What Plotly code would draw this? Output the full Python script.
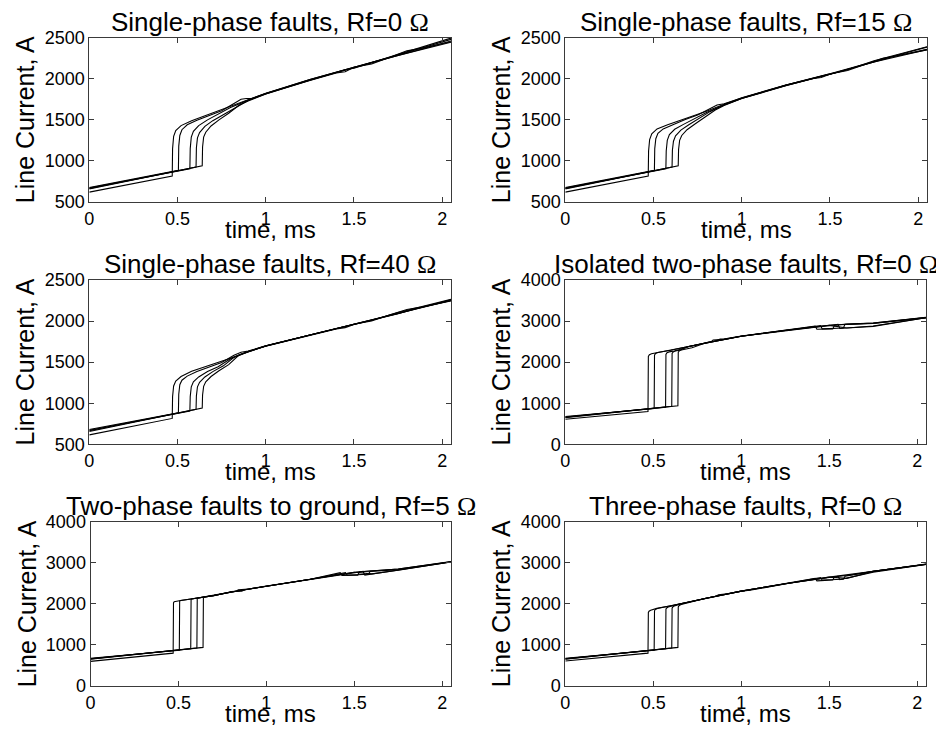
import plotly.graph_objects as go

# ---------------- data ----------------
OMEGA = '<span style="font-family:\'Liberation Serif\', \'Times New Roman\', serif">Ω</span>'
TITLES = [
    "Single-phase faults, Rf=0 " + OMEGA,
    "Single-phase faults, Rf=15 " + OMEGA,
    "Single-phase faults, Rf=40 " + OMEGA,
    "Isolated two-phase faults, Rf=0 " + OMEGA,
    "Two-phase faults to ground, Rf=5 " + OMEGA,
    "Three-phase faults, Rf=0 " + OMEGA,
]
X_TICKS = [0, 0.5, 1, 1.5, 2]
X_TICK_TEXT = ["0", "0.5", "1", "1.5", "2"]
Y_TICKS_LOW = [500, 1000, 1500, 2000, 2500]
Y_TICKS_HIGH = [0, 1000, 2000, 3000, 4000]

# Panel 1: single-phase, Rf=0
P1_T = [
    [0, 0.47, 0.472, 0.478, 0.49, 0.52, 0.58, 0.65, 0.72, 0.80, 0.85, 0.9, 1.0, 1.25, 1.5, 1.75, 2.05],
    [0, 0.505, 0.507, 0.513, 0.525, 0.555, 0.61, 0.68, 0.75, 0.82, 0.86, 0.89, 0.92, 1.0, 1.25, 1.45, 1.5, 1.6, 1.75, 2.05],
    [0, 0.57, 0.572, 0.578, 0.59, 0.62, 0.67, 0.73, 0.80, 0.9, 1.0, 1.25, 1.4, 1.45, 1.5, 1.75, 1.85, 2.05],
    [0, 0.605, 0.607, 0.613, 0.625, 0.655, 0.70, 0.76, 0.82, 0.9, 1.0, 1.25, 1.5, 1.6, 1.7, 1.8, 1.88, 2.05],
    [0, 0.64, 0.642, 0.648, 0.66, 0.69, 0.735, 0.79, 0.85, 0.9, 1.0, 1.25, 1.5, 1.75, 2.05],
]
P1_I = [
    [620, 815, 1150, 1300, 1370, 1430, 1490, 1545, 1600, 1665, 1705, 1745, 1825, 1990, 2140, 2290, 2480],
    [675, 885, 1180, 1310, 1380, 1440, 1495, 1555, 1610, 1700, 1750, 1760, 1760, 1820, 1985, 2110, 2130, 2195, 2300, 2495],
    [670, 905, 1150, 1290, 1360, 1430, 1500, 1570, 1650, 1740, 1815, 1980, 2070, 2085, 2140, 2285, 2340, 2460],
    [665, 925, 1160, 1280, 1345, 1420, 1490, 1565, 1640, 1735, 1820, 1990, 2140, 2180, 2260, 2340, 2370, 2450],
    [660, 940, 1170, 1290, 1350, 1425, 1500, 1580, 1680, 1730, 1815, 1985, 2135, 2285, 2445],
]

# Panel 2: single-phase, Rf=15
P2_T = [
    [0, 0.47, 0.472, 0.478, 0.49, 0.52, 0.58, 0.65, 0.72, 0.80, 0.9, 1.0, 1.25, 1.5, 1.75, 2.05],
    [0, 0.505, 0.507, 0.513, 0.525, 0.555, 0.61, 0.68, 0.75, 0.82, 0.86, 0.9, 1.0, 1.25, 1.45, 1.5, 1.6, 1.75, 2.05],
    [0, 0.57, 0.572, 0.578, 0.59, 0.62, 0.67, 0.73, 0.80, 0.9, 1.0, 1.25, 1.4, 1.45, 1.5, 1.75, 1.85, 2.05],
    [0, 0.605, 0.607, 0.613, 0.625, 0.655, 0.70, 0.76, 0.82, 0.9, 1.0, 1.25, 1.5, 1.6, 1.7, 1.8, 1.88, 2.05],
    [0, 0.64, 0.642, 0.648, 0.66, 0.69, 0.735, 0.79, 0.85, 0.9, 1.0, 1.25, 1.5, 1.75, 2.05],
]
P2_I = [
    [620, 815, 1120, 1260, 1330, 1390, 1440, 1490, 1540, 1605, 1690, 1768, 1925, 2060, 2210, 2385],
    [675, 885, 1150, 1270, 1335, 1390, 1440, 1505, 1560, 1640, 1680, 1695, 1765, 1920, 2030, 2055, 2110, 2220, 2390],
    [670, 905, 1120, 1250, 1320, 1385, 1445, 1510, 1590, 1680, 1760, 1915, 2000, 2015, 2055, 2205, 2265, 2360],
    [665, 925, 1130, 1240, 1305, 1375, 1440, 1515, 1600, 1685, 1762, 1925, 2060, 2100, 2175, 2250, 2280, 2350],
    [660, 940, 1140, 1250, 1310, 1380, 1450, 1530, 1620, 1675, 1760, 1920, 2055, 2205, 2355],
]

# Panel 3: single-phase, Rf=40
P3_T = [
    [0, 0.47, 0.472, 0.478, 0.49, 0.52, 0.58, 0.65, 0.72, 0.80, 0.9, 1.0, 1.25, 1.5, 1.75, 2.05],
    [0, 0.505, 0.507, 0.513, 0.525, 0.555, 0.61, 0.68, 0.75, 0.82, 0.86, 0.9, 1.0, 1.25, 1.45, 1.5, 1.6, 1.75, 2.05],
    [0, 0.57, 0.572, 0.578, 0.59, 0.62, 0.67, 0.73, 0.80, 0.9, 1.0, 1.25, 1.4, 1.45, 1.5, 1.75, 1.85, 2.05],
    [0, 0.605, 0.607, 0.613, 0.625, 0.655, 0.70, 0.76, 0.82, 0.9, 1.0, 1.25, 1.5, 1.6, 1.7, 1.8, 1.88, 2.05],
    [0, 0.64, 0.642, 0.648, 0.66, 0.69, 0.735, 0.79, 0.85, 0.9, 1.0, 1.25, 1.5, 1.75, 2.05],
]
P3_I = [
    [615, 815, 1080, 1210, 1270, 1325, 1390, 1440, 1485, 1547, 1628, 1697, 1831, 1960, 2094, 2260],
    [680, 885, 1110, 1225, 1280, 1330, 1385, 1440, 1495, 1585, 1620, 1635, 1698, 1830, 1930, 1955, 2010, 2105, 2265],
    [670, 905, 1080, 1200, 1260, 1320, 1385, 1445, 1540, 1625, 1695, 1828, 1905, 1920, 1960, 2090, 2150, 2250],
    [665, 925, 1090, 1200, 1255, 1320, 1385, 1455, 1560, 1630, 1698, 1832, 1962, 2000, 2075, 2140, 2170, 2245],
    [655, 940, 1100, 1205, 1260, 1325, 1395, 1470, 1590, 1625, 1696, 1830, 1958, 2092, 2250],
]

# Panel 4: isolated two-phase, Rf=0
P4_T = [
    [0, 0.47, 0.472, 0.478, 0.49, 0.52, 0.6, 0.7, 0.8, 0.9, 1.0, 1.25, 1.5, 1.75, 2.05],
    [0, 0.505, 0.507, 0.513, 0.525, 0.55, 0.6, 0.7, 0.78, 0.8, 0.86, 0.88, 0.9, 1.0, 1.25, 1.42, 1.43, 1.52, 1.53, 1.6, 1.75, 2.05],
    [0, 0.57, 0.572, 0.578, 0.59, 0.62, 0.7, 0.8, 0.83, 0.84, 0.9, 1.0, 1.25, 1.5, 1.55, 1.56, 1.75, 2.05],
    [0, 0.605, 0.607, 0.613, 0.625, 0.65, 0.7, 0.8, 0.9, 1.0, 1.25, 1.45, 1.46, 1.58, 1.59, 1.75, 2.05],
    [0, 0.64, 0.642, 0.648, 0.66, 0.68, 0.72, 0.8, 0.9, 1.0, 1.25, 1.5, 1.6, 1.75, 2.05],
]
P4_I = [
    [610, 800, 2140, 2180, 2205, 2230, 2290, 2380, 2470, 2555, 2632, 2775, 2900, 2950, 3085],
    [675, 870, 2170, 2210, 2235, 2250, 2290, 2380, 2450, 2475, 2525, 2560, 2560, 2635, 2775, 2880, 2800, 2810, 2900, 2930, 2950, 3090],
    [665, 905, 2190, 2230, 2250, 2270, 2375, 2470, 2500, 2540, 2555, 2630, 2770, 2905, 2920, 2820, 2880, 3080],
    [660, 925, 2210, 2250, 2270, 2290, 2380, 2470, 2555, 2632, 2770, 2890, 2810, 2830, 2920, 2940, 3085],
    [650, 940, 2240, 2275, 2295, 2315, 2350, 2470, 2555, 2630, 2770, 2895, 2830, 2870, 3080],
]

# Panel 5: two-phase to ground, Rf=5
P5_T = [
    [0, 0.47, 0.472, 0.476, 0.505, 0.57, 0.64, 0.7, 0.8, 0.9, 1.0, 1.25, 1.5, 1.75, 2.05],
    [0, 0.505, 0.507, 0.511, 0.57, 0.64, 0.7, 0.78, 0.8, 0.86, 0.88, 0.9, 1.0, 1.25, 1.42, 1.43, 1.52, 1.53, 1.6, 1.75, 2.05],
    [0, 0.57, 0.572, 0.576, 0.64, 0.7, 0.8, 0.83, 0.84, 0.9, 1.0, 1.25, 1.5, 1.55, 1.56, 1.75, 2.05],
    [0, 0.605, 0.607, 0.611, 0.64, 0.7, 0.8, 0.9, 1.0, 1.25, 1.45, 1.46, 1.58, 1.59, 1.75, 2.05],
    [0, 0.64, 0.642, 0.646, 0.7, 0.8, 0.9, 1.0, 1.25, 1.5, 1.6, 1.75, 2.05],
]
P5_I = [
    [600, 800, 2030, 2050, 2075, 2115, 2160, 2200, 2290, 2360, 2430, 2600, 2770, 2850, 3025],
    [675, 870, 2065, 2080, 2118, 2162, 2200, 2275, 2300, 2310, 2350, 2360, 2435, 2600, 2760, 2690, 2700, 2780, 2800, 2850, 3030],
    [665, 905, 2105, 2120, 2165, 2205, 2290, 2310, 2340, 2360, 2430, 2600, 2770, 2790, 2700, 2830, 3020],
    [660, 925, 2125, 2140, 2160, 2200, 2290, 2360, 2430, 2600, 2760, 2700, 2720, 2790, 2830, 3025],
    [650, 940, 2150, 2165, 2205, 2290, 2360, 2430, 2600, 2770, 2730, 2820, 3020],
]

# Panel 6: three-phase, Rf=0
P6_T = [
    [0, 0.47, 0.472, 0.476, 0.485, 0.5, 0.52, 0.6, 0.65, 0.8, 1.0, 1.25, 1.5, 1.75, 2.05],
    [0, 0.505, 0.507, 0.511, 0.52, 0.535, 0.6, 0.65, 0.8, 0.86, 0.87, 0.92, 1.0, 1.25, 1.42, 1.43, 1.52, 1.53, 1.6, 1.75, 2.05],
    [0, 0.57, 0.572, 0.576, 0.585, 0.6, 0.65, 0.8, 1.0, 1.25, 1.5, 1.55, 1.56, 1.75, 2.05],
    [0, 0.605, 0.607, 0.611, 0.62, 0.635, 0.65, 0.8, 1.0, 1.05, 1.1, 1.25, 1.45, 1.46, 1.58, 1.59, 1.75, 2.05],
    [0, 0.64, 0.642, 0.646, 0.655, 0.67, 0.8, 1.0, 1.25, 1.5, 1.6, 1.75, 2.05],
]
P6_I = [
    [610, 800, 1790, 1820, 1845, 1870, 1890, 1955, 2000, 2135, 2310, 2490, 2650, 2790, 2965],
    [675, 870, 1830, 1860, 1880, 1900, 1955, 2000, 2135, 2190, 2220, 2245, 2310, 2490, 2620, 2560, 2580, 2660, 2690, 2790, 2970],
    [665, 905, 1870, 1900, 1925, 1945, 1995, 2135, 2305, 2490, 2650, 2670, 2590, 2770, 2960],
    [660, 925, 1895, 1925, 1950, 1970, 1990, 2135, 2310, 2330, 2370, 2490, 2640, 2580, 2600, 2670, 2790, 2965],
    [650, 940, 1925, 1955, 1980, 2000, 2135, 2310, 2490, 2650, 2620, 2790, 2960],
]

PANELS_T = [P1_T, P2_T, P3_T, P4_T, P5_T, P6_T]
PANELS_I = [P1_I, P2_I, P3_I, P4_I, P5_I, P6_I]

# ---------------- layout (pixel geometry of the reference) ----------------
W, H = 944, 731
OFF = 8  # default page margin of the html body
FW, FH = W - OFF, H - OFF
FONT = "Arial, Liberation Sans, Helvetica, sans-serif"

# plot-area boxes in window pixels: (left, right, top, bottom)
BOXES = [
    (89.3, 451, 37.7, 202),
    (565.3, 927, 37.7, 202),
    (89.3, 451, 280, 444.3),
    (565.3, 926, 280, 444.3),
    (90.5, 451, 521.7, 686),
    (565.3, 926, 521.7, 686),
]
YRANGES = [(500, 2500), (500, 2500), (500, 2500), (0, 4000), (0, 4000), (0, 4000)]


def px_x(p):
    return (p - OFF) / FW


def px_y(p):
    return 1 - (p - OFF) / FH


fig = go.Figure()
annotations = []
layout_axes = {}

for k in range(6):
    n = k + 1
    xa = "x" if n == 1 else f"x{n}"
    ya = "y" if n == 1 else f"y{n}"
    for t, cur in zip(PANELS_T[k], PANELS_I[k]):
        fig.add_trace(go.Scatter(
            x=t, y=cur, mode="lines", xaxis=xa, yaxis=ya,
            line=dict(color="black", width=1.1), showlegend=False,
            hoverinfo="skip"))
    l, r, tp, bt = BOXES[k]
    ylo, yhi = YRANGES[k]
    yt = Y_TICKS_LOW if yhi == 2500 else Y_TICKS_HIGH
    common = dict(
        showgrid=False, zeroline=False, showline=True, linecolor="#3a3a3a",
        linewidth=1, mirror="ticks", ticks="inside", ticklen=5,
        tickcolor="#3a3a3a", tickwidth=1, automargin=False,
        tickfont=dict(family=FONT, size=18, color="black"),
    )
    layout_axes["xaxis" if n == 1 else f"xaxis{n}"] = dict(
        common, domain=[px_x(l), px_x(r)], range=[0, 2.05],
        tickvals=X_TICKS, ticktext=X_TICK_TEXT,
        anchor=ya, fixedrange=True)
    layout_axes["yaxis" if n == 1 else f"yaxis{n}"] = dict(
        common, domain=[px_y(bt), px_y(tp)], range=[ylo, yhi],
        tickvals=yt, ticktext=[str(v) for v in yt],
        anchor=xa, fixedrange=True)

    cx = (l + r) / 2
    cy = (tp + bt) / 2
    # subplot title
    annotations.append(dict(
        text=TITLES[k], xref="paper", yref="paper",
        x=px_x(cx), y=px_y(tp), xanchor="center", yanchor="bottom",
        yshift=-1, showarrow=False,
        font=dict(family=FONT, size=26, color="black")))
    # x-axis title
    annotations.append(dict(
        text="time, ms", xref="paper", yref="paper",
        x=px_x(cx), y=px_y(bt + 27), xanchor="center", yanchor="middle",
        showarrow=False, font=dict(family=FONT, size=24, color="black")))
    # y-axis title
    annotations.append(dict(
        text="Line Current, A", xref="paper", yref="paper",
        x=px_x(l - 64), y=px_y(cy), xanchor="center", yanchor="middle",
        textangle=-90, showarrow=False,
        font=dict(family=FONT, size=25, color="black")))

fig.update_layout(
    template="none",
    width=FW, height=FH,
    autosize=False,
    margin=dict(l=0, r=0, t=0, b=0, pad=0),
    paper_bgcolor="white", plot_bgcolor="white",
    annotations=annotations,
    showlegend=False,
    **layout_axes,
)

fig.write_html("out.html", config={"displayModeBar": False})
